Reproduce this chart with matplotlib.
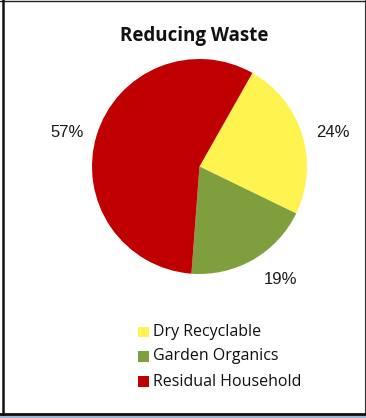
import matplotlib
matplotlib.use("Agg")
import matplotlib.pyplot as plt
from matplotlib.patches import Rectangle
from matplotlib.lines import Line2D

categories = ["Dry Recyclable", "Garden Organics", "Residual Household"]
shares = [24, 19, 57]
colors = ["#FFF44F", "#7F9F3F", "#C00000"]

# nudges for the percentage labels (in pie radius units)
label_nudge = [(0.01, -0.07), (0.11, 0.07), (0.0, -0.06)]

W, H = 366, 418
fig = plt.figure(figsize=(W / 100, H / 100), dpi=100)
fig.patch.set_facecolor("white")

# pie area in pixel coordinates: centre (199.5, 166.5), radius ~107.5
cx, cy, r = 199.5, 166.5, 107.5
ax = fig.add_axes([(cx - r) / W, 1 - (cy + r) / H, 2 * r / W, 2 * r / H])
wedges, texts, autotexts = ax.pie(
    shares,
    colors=colors,
    startangle=60.5,
    counterclock=False,
    autopct="%d%%",
    pctdistance=1.29,
    radius=1.0,
    textprops=dict(fontsize=12, family="Liberation Sans", color="#1a1a1a"),
)
ax.set_xlim(-1, 1)
ax.set_ylim(-1, 1)
ax.set_aspect("equal")
ax.axis("off")
for t, (dx, dy) in zip(autotexts, label_nudge):
    x, y = t.get_position()
    t.set_position((x + dx, y + dy))
    t.set_clip_on(False)

fig.text(194 / W, 1 - 36 / H, "Reducing Waste", ha="center", va="center",
         fontsize=13.5, fontweight="bold", family="Open Sans", color="#111111")

# legend drawn as squares plus labels
rows_y = [332, 356.5, 381.5]
for name, col, y in zip(categories, colors, rows_y):
    fig.patches.append(Rectangle((138 / W, 1 - (y + 5) / H), 10.5 / W, 10.5 / H,
                                 transform=fig.transFigure, facecolor=col,
                                 edgecolor="none"))
    fig.text(153 / W, 1 - y / H, name, ha="left", va="center",
             fontsize=11.5, family="Open Sans", color="#111111")

# chart frame
def hline(y, lw, color):
    fig.lines.append(Line2D([0, 1], [1 - y / H, 1 - y / H], transform=fig.transFigure,
                            color=color, linewidth=lw))

def vline(x, y0, y1, lw, color):
    fig.lines.append(Line2D([x / W, x / W], [1 - y0 / H, 1 - y1 / H],
                            transform=fig.transFigure, color=color, linewidth=lw))

hline(0.5, 1.0, "#222222")
vline(3, 0, 414, 1.8, "#111111")
vline(364.5, 0, 414, 0.8, "#333333")
fig.patches.append(Rectangle((0, 0), 1, 4 / H, transform=fig.transFigure,
                             facecolor="#9DB7D5", edgecolor="none"))
hline(413.5, 2.0, "#111111")

fig.savefig("out.png", dpi=100, facecolor="white")
